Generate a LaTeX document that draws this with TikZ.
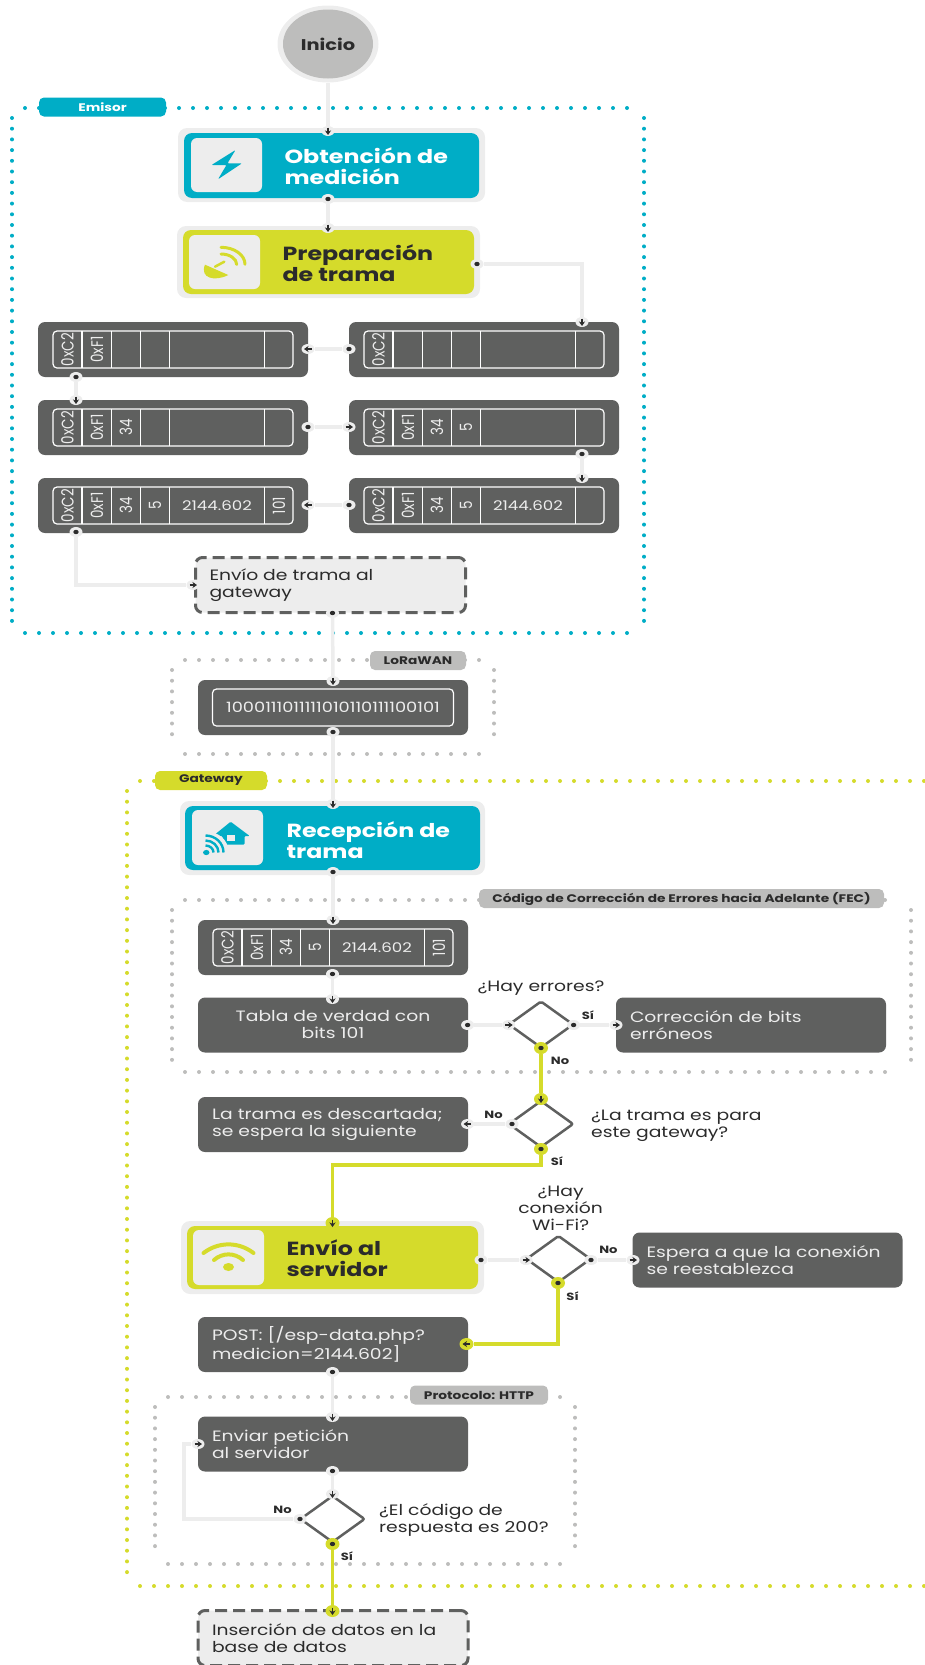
\documentclass[tikz,border=0pt]{standalone}
\usepackage{fontspec}
\setmainfont{Poppins}[FakeStretch=1.25]
\newfontfamily\plano{Poppins}
\usetikzlibrary{positioning,shapes.geometric,arrows.meta,backgrounds}

\definecolor{oscuro}{HTML}{5F605F}
\definecolor{claro}{HTML}{EDEDED}
\definecolor{cian}{HTML}{00ADC6}
\definecolor{lima}{HTML}{D5DB2B}
\definecolor{gris}{HTML}{BDBDBC}
\definecolor{tinta}{HTML}{2B2B2B}

\tikzset{
  cuerpo/.style={font=\fontsize{15}{17}\selectfont},
  caja/.style={cuerpo, fill=oscuro, text=claro, rounded corners=7pt, inner sep=0pt,
    minimum width=270pt, minimum height=55pt, text width=#1, align=left},
  caja/.default=242pt,
  rayada/.style={caja, fill=claro, text=tinta, draw=oscuro, line width=3pt, dash pattern=on 12pt off 6pt},
  halo/.style={fill=claro, rounded corners=9pt, inner sep=0pt},
  paso/.style={fill=#1, rounded corners=8pt, inner sep=0pt},
  tile/.style={fill=claro, rounded corners=6pt, inner sep=0pt, minimum width=71pt, minimum height=54pt},
  titulo/.style={font=\bfseries\fontsize{19}{21}\selectfont, anchor=west, align=left},
  rotulo/.style={fill=#1, rounded corners=5pt, inner sep=0pt, minimum height=19pt, text=tinta,
    font=\bfseries\fontsize{11}{12}\selectfont},
  marca/.style={text=tinta, font=\bfseries\fontsize{10.5}{11}\selectfont, inner sep=0pt},
  nota/.style={cuerpo, text=tinta, inner sep=0pt, align=left},
  decision/.style={diamond, draw=oscuro, fill=white, line width=2.5pt, aspect=1.38, inner sep=0pt,
    minimum width=65pt, minimum height=47pt, rounded corners=2pt},
  puerto/.style={ellipse, fill=claro, inner sep=0pt, minimum width=13pt, minimum height=10pt},
  salida/.style={puerto, path picture={\fill[tinta] (path picture bounding box.center) ellipse (2.7pt and 2.2pt);}},
  entrada/.style={puerto, path picture={\draw[tinta, line width=1.3pt, -{Stealth[length=4.5pt,width=6pt]}]
    (path picture bounding box.center) ++(#1:-3.5pt) -- ++(#1:7.5pt);}},
  enlace/.style={claro, line width=3.5pt},
  enlacelima/.style={lima, line width=3.5pt},
  puntosh/.style={draw=#1, line width=4pt, line cap=round, dash pattern=on 0pt off 14pt},
  puntosv/.style={draw=#1, line width=4pt, line cap=round, dash pattern=on 0pt off 10.7pt},
  celda/.style={xscale=1.25, rotate=90, inner sep=0pt, text=claro, font=\plano\fontsize{13.5}{14}\selectfont},
  cifra/.style={inner sep=0pt, text=claro, font=\fontsize{13.3}{14}\selectfont}
}

\newcommand{\marco}[5]{
  \draw[puntosh=#5] (#1+13,#2) -- (#3-12,#2);
  \draw[puntosh=#5] (#1+13,#4) -- (#3-12,#4);
  \draw[puntosv=#5] (#1,#2+10) -- (#1,#4-10);
  \draw[puntosv=#5] (#3,#2+10) -- (#3,#4-10);
}

\newcommand{\trama}[9]{
  \node[fill=oscuro, rounded corners=7pt, inner sep=0pt, minimum width=270pt, minimum height=55pt]
    (#1) at (#2+135,#3+27.5) {};
  \node[draw=white, line width=1.2pt, rounded corners=4pt, inner sep=0pt, minimum width=240pt, minimum height=37pt]
    (#1-b) at (#1) {};
  \foreach \d in {44,73.5,102.5,131.5,226.5}
    \draw[white, line width=1.2pt] (#2+\d,#3+9) -- (#2+\d,#3+46);
  \foreach \cx/\val [count=\i] in {29.5/#4,59/#5,88/#6,117/#7,241/#9}
    \node[celda] (#1-\i) at (#2+\cx,#3+27.5) {\val};
  \node[cifra] (#1-v) at (#2+179,#3+28) {#8};
}

\begin{document}
\begin{tikzpicture}[x=1pt, y=-1pt]
  \useasboundingbox (0,0) rectangle (925,1665);

  \node[ellipse, fill=claro, inner sep=0pt, minimum width=101pt, minimum height=77pt] (iniH) at (328,44) {};
  \node[ellipse, fill=gris, inner sep=0pt, minimum width=90pt, minimum height=69pt, text=tinta,
    font=\bfseries\fontsize{15.5}{17}\selectfont] (ini) at (328,44) {Inicio};

  \node[rotulo=cian, text=white, minimum width=127pt] (emi) at (102.5,107) {Emisor};

  \node[halo, minimum width=307pt, minimum height=74pt] (obtH) at (331.5,165) {};
  \node[paso=cian, minimum width=295pt, minimum height=65pt] (obt) at (331.5,165.5) {};
  \node[tile] (obtI) at (226.5,165) {};
  \node[titulo, text=white] (obtT) at (281,166.5) {Obtención de\\medición};
  \begin{scope}[shift={(226.5,165)}, x=1pt, y=1pt]
    \fill[cian, rounded corners=1pt] (9,15) -- (-15,0) -- (0,0) -- (-8.5,-14.3) -- (15.5,1.7) -- (1,1.7) -- cycle;
  \end{scope}

  \node[halo, minimum width=303pt, minimum height=72pt] (preH) at (328.5,262) {};
  \node[paso=lima, minimum width=291pt, minimum height=64pt] (pre) at (328.5,262) {};
  \node[tile] (preI) at (224.5,262) {};
  \node[titulo, text=tinta] (preT) at (279,263.5) {Preparación\\de trama};
  \begin{scope}[shift={(224.5,262)}, x=1pt, y=1pt]
    \fill[lima] (-19.5,-2.7) .. controls (-25,-16) and (-10,-20) .. (3.8,-13) -- cycle;
    \draw[lima, line width=2.5pt, line cap=round] (-9.5,-4.7) -- (-0.2,0.3);
    \draw[lima, line width=3pt, line cap=round] (-3.5,8) arc[start angle=90, end angle=0, x radius=15.7, y radius=10.5];
    \draw[lima, line width=3pt, line cap=round] (-3.5,14.7) arc[start angle=90, end angle=0, x radius=24, y radius=17];
  \end{scope}

  \trama{r1}{349}{322}{0xC2}{}{}{}{}{}
  \trama{l1}{38}{322}{0xC2}{0xF1}{}{}{}{}
  \trama{l2}{38}{400}{0xC2}{0xF1}{34}{}{}{}
  \trama{r2}{349}{400}{0xC2}{0xF1}{34}{5}{}{}
  \trama{r3}{349}{478}{0xC2}{0xF1}{34}{5}{2144.602}{}
  \trama{l3}{38}{478}{0xC2}{0xF1}{34}{5}{2144.602}{101}

  \node[rayada] (env) at (330.5,585) {Envío de trama al\\gateway};

  \node[rotulo=gris, minimum width=96pt] (lora) at (418,660.5) {LoRaWAN};
  \node[fill=oscuro, rounded corners=7pt, inner sep=0pt, minimum width=270pt, minimum height=55pt] (bits) at (333,707.5) {};
  \node[draw=white, line width=1.2pt, rounded corners=4pt, inner sep=0pt, minimum width=241pt, minimum height=37pt,
    text=claro, font=\fontsize{14.2}{15}\selectfont] (bitsB) at (333,707.5) {1000111011111010110111100101};

  \node[rotulo=lima, minimum width=112pt] (gate) at (211,780.5) {Gateway};

  \node[halo, minimum width=305pt, minimum height=74pt] (recH) at (332.5,838) {};
  \node[paso=cian, minimum width=295pt, minimum height=64pt] (rec) at (332.5,838) {};
  \node[tile, minimum height=55pt] (recI) at (227.5,837.5) {};
  \node[titulo, text=white] (recT) at (283,840) {Recepción de\\trama};
  \begin{scope}[shift={(227.5,837.5)}, x=1pt, y=1pt]
    \fill[cian, rounded corners=1pt] (3.2,15.8) -- (-14.5,1.5) -- (-5,1.5) -- (-5,-7) -- (17,-7) -- (17,1.5) -- (22.2,1.5) -- cycle;
    \fill[claro] (-0.5,-3) rectangle (7,3);
    \draw[claro, line width=6pt] (-21.2,3) arc[start angle=90, end angle=0, x radius=19, y radius=16.5];
    \fill[cian] (-21.2,-15) ellipse (3.2pt and 2.6pt);
    \foreach \rr in {7,12,17}
      \draw[cian, line width=2.4pt] (-22,-15+\rr) arc[start angle=90, end angle=0, x radius=\rr+1, y radius=\rr];
  \end{scope}

  \node[rotulo=gris, minimum width=405pt] (fec) at (681.5,898.5) {Código de Corrección de Errores hacia Adelante (FEC)};
  \trama{t1}{198}{920}{0xC2}{0xF1}{34}{5}{2144.602}{101}

  \node[caja, align=center] (tab) at (333,1025) {Tabla de verdad con\\bits 101};
  \node[decision] (d1) at (541,1024.5) {};
  \node[nota] (d1T) at (541,988) {¿Hay errores?};
  \node[caja] (cor) at (751,1025) {Corrección de bits\\erróneos};
  \node[marca] (d1S) at (588,1015) {Sí};
  \node[marca] (d1N) at (560,1061) {No};

  \node[caja] (des) at (333,1124.5) {La trama es descartada;\\se espera la siguiente};
  \node[decision] (d2) at (541,1124) {};
  \node[nota, anchor=west] (d2T) at (591,1125.5) {¿La trama es para\\este gateway?};
  \node[marca] (d2N) at (493.6,1115) {No};
  \node[marca] (d2S) at (557,1161) {Sí};

  \node[halo, minimum width=303pt, minimum height=73pt] (serH) at (332.5,1257.5) {};
  \node[paso=lima, minimum width=291pt, minimum height=63pt] (ser) at (332.5,1257.5) {};
  \node[tile, minimum height=55pt] (serI) at (228.5,1257.5) {};
  \node[titulo, text=tinta] (serT) at (283,1258.5) {Envío al\\servidor};
  \begin{scope}[shift={(228.5,1257.5)}, x=1pt, y=1pt]
    \fill[lima] (0,-9.5) ellipse (5.5pt and 4pt);
    \draw[lima, line width=4pt, line cap=round] (-25,4.5) .. controls (-10,16) and (10,16) .. (25,4.5);
    \draw[lima, line width=4pt, line cap=round] (-14.5,-2.5) .. controls (-6,5) and (6,5) .. (14.5,-2.5);
  \end{scope}
  \node[decision] (d3) at (558.5,1259) {};
  \node[nota, align=center] (d3T) at (560.6,1208.5) {¿Hay\\conexión\\Wi-Fi?};
  \node[caja] (esp) at (767.5,1260) {Espera a que la conexión\\se reestablezca};
  \node[marca] (d3N) at (608.4,1250) {No};
  \node[marca] (d3S) at (572.6,1296) {Sí};

  \node[caja] (post) at (333,1344.5) {POST: [/esp-data.php?\\medicion=2144.602]};

  \node[rotulo=gris, minimum width=138pt] (http) at (479,1395) {Protocolo: HTTP};
  \node[caja] (envi) at (333,1444) {Enviar petición\\al servidor};
  \node[decision] (d4) at (332.5,1519) {};
  \node[nota, anchor=west] (d4T) at (379,1520.5) {¿El código de\\respuesta es 200?};
  \node[marca] (d4N) at (282.5,1510) {No};
  \node[marca] (d4S) at (347,1556) {Sí};

  \node[rayada] (ins) at (333,1638) {Inserción de datos en la\\base de datos};

  \foreach \n/\x/\y in {obtS/328/199, preS/477/264, r1S/349/349, l1S/76/377, l2S/308/427, r2S/582/454,
      r3S/349/505, l3S/76/532, envS/332.5/613, bitsS/333/732, recS/333/872, t1S/332.5/974, tabS/467.6/1025,
      d1D/573.6/1025, d2I/512/1124, serS/481/1260, d3D/591/1260, postS/332.5/1372, enviS/332.5/1471, d4I/300/1519}
    \node[salida] (\n) at (\x,\y) {};
  \foreach \n/\x/\y/\a in {obtE/328/131/-90, preE/328/228/-90, r1E/582/322/-90, l1E/308/349/180, l2E/76/400/-90,
      r2E/349/427/0, r3E/582/478/-90, l3E/308/505/180, envE/193/585/0, bitsE/333/681/-90, recE/333/804/-90,
      t1E/333/920/-90, tabE/332.5/999/-90, d1E/508.7/1025/0, corE/616/1025/0, desE/467.6/1124/180, d3E/526/1260/0,
      espE/633/1260/0, postE/332.5/1417/-90, enviE/198/1444/0, d4E/332.5/1494/-90}
    \node[entrada=\a] (\n) at (\x,\y) {};
  \foreach \n/\x/\y in {d1S2/541/1048, d2S2/541/1149, d3S2/558/1283, d4S2/332.5/1544}
    \node[salida, fill=lima, minimum width=14pt, minimum height=12pt] (\n) at (\x,\y) {};
  \foreach \n/\x/\y/\a in {d2E/541/1099/-90, serE/332.5/1223/-90, postL/466.5/1344/180, insE/332.5/1611/-90}
    \node[entrada=\a, fill=lima, minimum width=14pt, minimum height=12pt] (\n) at (\x,\y) {};

  \coordinate (codo) at (332.5,1165);
  \coordinate (retorno) at (184,1519);

  \begin{scope}[on background layer]
    \marco{12}{108}{644}{633}{cian}
    \marco{172}{660}{494}{754}{gris}
    \marco{172}{900}{911}{1072}{gris}
    \marco{155}{1397}{575}{1564}{gris}
    \draw[puntosh=lima] (140,781) -- (925,781);
    \draw[puntosh=lima] (140,1586) -- (925,1586);
    \draw[puntosv=lima] (127,791) -- (127,1576);

    \foreach \a/\b in {iniH/obtE, obtS/preE, r1S/l1E, l1S/l2E, l2S/r2E, r2S/r3E, r3S/l3E, envS/bitsE, bitsS/recE,
        recS/t1E, t1S/tabE, tabS/d1E, d1D/corE, d2I/desE, serS/d3E, d3D/espE, postS/postE, enviS/d4E}
      \draw[enlace] (\a) -- (\b);
    \draw[enlace] (preS) -| (r1E);
    \draw[enlace] (l3S) |- (envE);
    \draw[enlace] (d4I) -- (retorno) |- (enviE);
    \draw[enlacelima] (d1S2) -- (d2E);
    \draw[enlacelima] (d2S2) |- (codo) -- (serE);
    \draw[enlacelima] (d3S2) |- (postL);
    \draw[enlacelima] (d4S2) -- (insE);
  \end{scope}
\end{tikzpicture}
\end{document}
